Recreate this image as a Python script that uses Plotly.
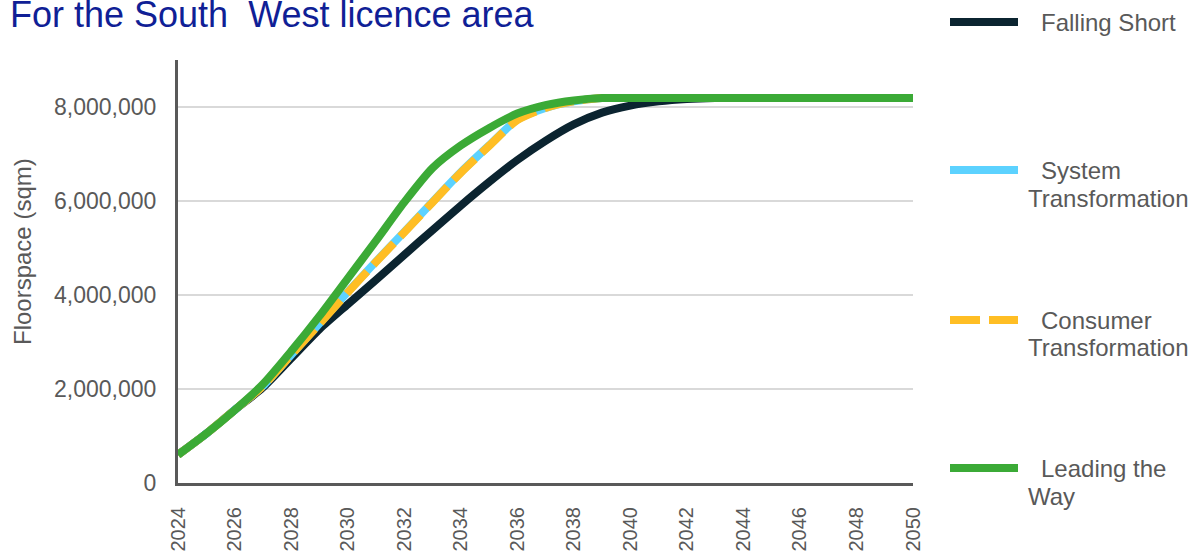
import plotly.graph_objects as go

years = list(range(2024, 2051))

falling_short = [0.60, 1.05, 1.55, 2.03, 2.65, 3.27, 3.80, 4.32, 4.85, 5.38, 5.90, 6.40, 6.87, 7.28,
                 7.63, 7.88, 8.03, 8.12, 8.17, 8.19, 8.19, 8.19, 8.19, 8.19, 8.19, 8.19, 8.19]
system_transformation = [0.60, 1.05, 1.55, 2.06, 2.72, 3.39, 4.06, 4.71, 5.34, 5.98, 6.61, 7.18, 7.73, 7.98,
                         8.12, 8.19, 8.19, 8.19, 8.19, 8.19, 8.19, 8.19, 8.19, 8.19, 8.19, 8.19, 8.19]
consumer_transformation = [0.60, 1.05, 1.55, 2.06, 2.72, 3.38, 4.05, 4.70, 5.33, 5.97, 6.60, 7.17, 7.72, 7.98,
                           8.12, 8.19, 8.19, 8.19, 8.19, 8.19, 8.19, 8.19, 8.19, 8.19, 8.19, 8.19, 8.19]
leading_the_way = [0.60, 1.05, 1.55, 2.10, 2.80, 3.55, 4.35, 5.15, 5.97, 6.70, 7.18, 7.55, 7.86, 8.04,
                   8.14, 8.19, 8.19, 8.19, 8.19, 8.19, 8.19, 8.19, 8.19, 8.19, 8.19, 8.19, 8.19]

series_names = ["Falling Short", "System Transformation", "Consumer Transformation", "Leading the Way"]
legend_lines = [["Falling Short"], ["System", "Transformation"], ["Consumer", "Transformation"], ["Leading the", "Way"]]
y_tick_vals = [0, 2000000, 4000000, 6000000, 8000000]
x_tick_vals = list(range(2024, 2051, 2))

title_text = "For the South  West licence area"
y_title_text = "Floorspace (sqm)"

# styles
W, H = 1196, 554
L, R, T, B = 178, 913, 60, 483
colors = ["#0B2430", "#5CD2FF", "#FFBE24", "#3BAA36"]
dashes = ["solid", "solid", "30px,9px", "solid"]
grey = "#595959"
font_family = "Liberation Sans, Arial, sans-serif"


def px_x(p):
    return (p - L) / (R - L)


def px_y(p):
    return (B - p) / (B - T)


series = [falling_short, system_transformation, consumer_transformation, leading_the_way]

fig = go.Figure()
for name, vals, c, d in zip(series_names, series, colors, dashes):
    fig.add_trace(go.Scatter(
        x=years, y=[v * 1e6 for v in vals], mode="lines", name=name,
        line=dict(color=c, width=8, dash=d, shape="spline", smoothing=0.7),
        showlegend=False,
    ))

shapes = []
annotations = []

# manual legend
legend_rows = [(22, None), (170, 198), (320, 347), (468, 496)]
for (ly, ly2), lines, c, d in zip(legend_rows, legend_lines, colors, dashes):
    shapes.append(dict(type="line", xref="paper", yref="paper",
                       x0=px_x(950), x1=px_x(1018), y0=px_y(ly), y1=px_y(ly),
                       line=dict(color=c, width=8, dash=d)))
    annotations.append(dict(text=lines[0], xref="paper", yref="paper", x=px_x(1039), y=px_y(ly),
                            xanchor="left", yanchor="middle", showarrow=False,
                            font=dict(family=font_family, size=24, color=grey)))
    if len(lines) > 1:
        annotations.append(dict(text=lines[1], xref="paper", yref="paper", x=px_x(1026), y=px_y(ly2),
                                xanchor="left", yanchor="middle", showarrow=False,
                                font=dict(family=font_family, size=24, color=grey)))

# title
annotations.append(dict(text=title_text, xref="paper", yref="paper", x=px_x(8), y=px_y(15),
                        xanchor="left", yanchor="middle", showarrow=False,
                        font=dict(family=font_family, size=36, color="#101F96")))
# y-axis title
annotations.append(dict(text=y_title_text, xref="paper", yref="paper", x=px_x(22), y=px_y(252),
                        xanchor="center", yanchor="middle", showarrow=False, textangle=-90,
                        font=dict(family=font_family, size=24, color=grey)))

fig.update_layout(
    width=W, height=H,
    margin=dict(l=L, r=W - R, t=T, b=H - B, autoexpand=False),
    paper_bgcolor="white", plot_bgcolor="white",
    shapes=shapes, annotations=annotations,
    xaxis=dict(range=[2024, 2050], tickvals=x_tick_vals, tickangle=-90,
               showgrid=False, zeroline=False, showline=True, linecolor=grey, linewidth=3,
               ticks="", ticklabelstandoff=13,
               tickfont=dict(family=font_family, size=20, color=grey)),
    yaxis=dict(range=[0, 9000000], tickvals=y_tick_vals, tickformat=",",
               showgrid=True, gridcolor="#D9D9D9", gridwidth=1.5, zeroline=False,
               showline=True, linecolor=grey, linewidth=3, ticks="", ticklabelstandoff=14,
               tickfont=dict(family=font_family, size=23, color=grey)),
)

fig.write_html("out.html")
